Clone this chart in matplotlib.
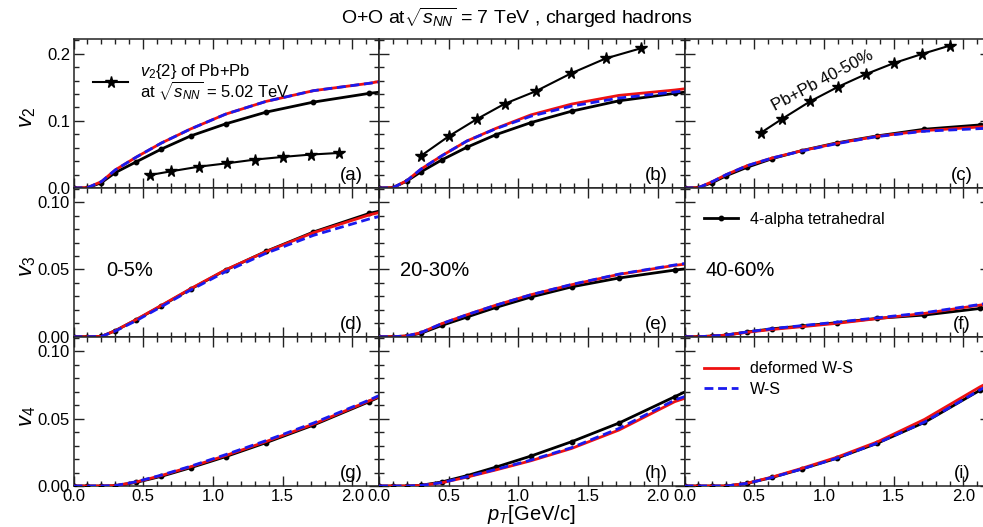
import matplotlib
matplotlib.use("Agg")
import matplotlib.pyplot as plt
from matplotlib.ticker import MultipleLocator, FormatStrFormatter

plt.rcParams['font.family'] = ['Liberation Sans', 'DejaVu Sans']
plt.rcParams['mathtext.fontset'] = 'custom'
plt.rcParams['mathtext.rm'] = 'Liberation Sans'
plt.rcParams['mathtext.it'] = 'Liberation Sans:italic'
plt.rcParams['mathtext.bf'] = 'Liberation Sans:bold'

# ---------------- data ----------------
pt = [0.0, 0.1, 0.2, 0.3, 0.45, 0.63, 0.84, 1.09, 1.38, 1.72, 2.12, 2.2]

# v2
v2_alpha_0_5 = [0, 0.0, 0.008, 0.023, 0.039, 0.058, 0.0776, 0.0955, 0.113, 0.128, 0.141, 0.143]
v2_def_0_5 = [0, 0.0005, 0.0095, 0.027, 0.046, 0.067, 0.088, 0.110, 0.129, 0.145, 0.156, 0.159]
v2_ws_0_5 = [0, 0.0005, 0.0095, 0.027, 0.046, 0.067, 0.088, 0.110, 0.129, 0.145, 0.156, 0.158]

v2_alpha_20_30 = [0, 0.0005, 0.0104, 0.024, 0.0418, 0.0607, 0.0796, 0.0975, 0.1144, 0.1299, 0.141, 0.143]
v2_def_20_30 = [0, 0.0005, 0.011, 0.028, 0.048, 0.070, 0.0890, 0.109, 0.125, 0.138, 0.146, 0.148]
v2_ws_20_30 = [0, 0.0005, 0.011, 0.028, 0.048, 0.070, 0.0885, 0.107, 0.122, 0.134, 0.143, 0.145]

v2_alpha_40_60 = [0, 0.0005, 0.008, 0.0184, 0.031, 0.0438, 0.0557, 0.0672, 0.0776, 0.0876, 0.094, 0.0955]
v2_def_40_60 = [0, 0.0005, 0.0095, 0.020, 0.0333, 0.0448, 0.0555, 0.0665, 0.077, 0.0855, 0.091, 0.092]
v2_ws_40_60 = [0, 0.0005, 0.0095, 0.020, 0.0333, 0.0448, 0.055, 0.066, 0.0766, 0.0846, 0.0885, 0.089]

# v3
v3_alpha_0_5 = [0, 0.0, 0.0002, 0.0045, 0.0126, 0.023, 0.0354, 0.0495, 0.0634, 0.0778, 0.0916, 0.0935]
v3_def_0_5 = [0, 0, 0.0002, 0.0045, 0.0128, 0.0233, 0.0357, 0.0497, 0.0632, 0.0773, 0.0905, 0.0925]
v3_ws_0_5 = [0, 0, 0.0002, 0.0042, 0.0119, 0.0223, 0.0347, 0.0483, 0.062, 0.0753, 0.0875, 0.0895]

v3_alpha_20_30 = [0, 0, 0.0005, 0.0025, 0.0084, 0.0146, 0.0218, 0.0295, 0.037, 0.0436, 0.0495, 0.0505]
v3_def_20_30 = [0, 0, 0.0006, 0.003, 0.0097, 0.0163, 0.0235, 0.0312, 0.0386, 0.0463, 0.053, 0.054]
v3_ws_20_30 = [0, 0, 0.0006, 0.003, 0.0097, 0.0163, 0.0235, 0.0312, 0.0388, 0.0465, 0.0533, 0.0545]

v3_alpha_40_60 = [0, 0, 0.0005, 0.0012, 0.0035, 0.0059, 0.0079, 0.0104, 0.0136, 0.0161, 0.021, 0.022]
v3_def_40_60 = [0, 0, 0.0005, 0.0012, 0.0033, 0.0054, 0.0074, 0.0099, 0.0134, 0.0173, 0.0235, 0.0248]
v3_ws_40_60 = [0, 0, 0.0005, 0.0013, 0.0036, 0.006, 0.0082, 0.0108, 0.014, 0.0178, 0.024, 0.0255]

# v4
v4_alpha_0_5 = [0, 0, 0, 0.0002, 0.0027, 0.0072, 0.0136, 0.0218, 0.0322, 0.0453, 0.0627, 0.0665]
v4_def_0_5 = [0, 0, 0, 0.0003, 0.003, 0.0078, 0.0143, 0.0226, 0.033, 0.046, 0.0633, 0.067]
v4_ws_0_5 = [0, 0, 0, 0.0003, 0.0032, 0.0081, 0.0147, 0.0233, 0.0337, 0.0468, 0.0639, 0.0677]

v4_alpha_20_30 = [0, 0, 0, 0.0005, 0.003, 0.0077, 0.0141, 0.0223, 0.0329, 0.0468, 0.0664, 0.0703]
v4_def_20_30 = [0, 0, 0, 0.0004, 0.0024, 0.0066, 0.012, 0.0188, 0.0279, 0.0416, 0.0627, 0.0655]
v4_ws_20_30 = [0, 0, 0, 0.0004, 0.0025, 0.0069, 0.0124, 0.0193, 0.0285, 0.0428, 0.0639, 0.0668]

v4_alpha_40_60 = [0, 0, 0, 0, 0.002, 0.0064, 0.0126, 0.0206, 0.0317, 0.0473, 0.0713, 0.0755]
v4_def_40_60 = [0, 0, 0, 0, 0.0021, 0.0067, 0.0131, 0.0213, 0.0327, 0.0495, 0.0738, 0.078]
v4_ws_40_60 = [0, 0, 0, 0, 0.002, 0.0064, 0.0126, 0.0206, 0.0318, 0.0475, 0.0716, 0.0757]

# Pb+Pb v2{2} at 5.02 TeV
pbpb_pt_0_5 = [0.55, 0.7, 0.9, 1.1, 1.3, 1.5, 1.7, 1.9]
pbpb_v2_0_5 = [0.0194, 0.0249, 0.0318, 0.0368, 0.0423, 0.0463, 0.0498, 0.0522]
pbpb_pt_20_30 = [0.3, 0.5, 0.7, 0.9, 1.125, 1.375, 1.625, 1.875]
pbpb_v2_20_30 = [0.0478, 0.0771, 0.1025, 0.1254, 0.1443, 0.1706, 0.1930, 0.2080]
pbpb_pt_40_50 = [0.55, 0.7, 0.9, 1.1, 1.3, 1.5, 1.7, 1.9]
pbpb_v2_40_50 = [0.0826, 0.103, 0.129, 0.1507, 0.1696, 0.186, 0.1995, 0.212]

centralities = ['0-5%', '20-30%', '40-60%']
panel_tags = ['(a)', '(b)', '(c)', '(d)', '(e)', '(f)', '(g)', '(h)', '(i)']
ylabels = [r'$v_2$', r'$v_3$', r'$v_4$']
xticklabels_fmt = '%.1f'

alpha_data = [[v2_alpha_0_5, v2_alpha_20_30, v2_alpha_40_60],
              [v3_alpha_0_5, v3_alpha_20_30, v3_alpha_40_60],
              [v4_alpha_0_5, v4_alpha_20_30, v4_alpha_40_60]]
def_data = [[v2_def_0_5, v2_def_20_30, v2_def_40_60],
            [v3_def_0_5, v3_def_20_30, v3_def_40_60],
            [v4_def_0_5, v4_def_20_30, v4_def_40_60]]
ws_data = [[v2_ws_0_5, v2_ws_20_30, v2_ws_40_60],
           [v3_ws_0_5, v3_ws_20_30, v3_ws_40_60],
           [v4_ws_0_5, v4_ws_20_30, v4_ws_40_60]]
pbpb = [(pbpb_pt_0_5, pbpb_v2_0_5), (pbpb_pt_20_30, pbpb_v2_20_30), (pbpb_pt_40_50, pbpb_v2_40_50)]

# ---------------- layout ----------------
W, H = 983, 527
fig = plt.figure(figsize=(W / 100, H / 100), dpi=100)
col_x = [73.5, 379.0, 684.5]
col_w = 305.5
row_top = [39.0, 188.0, 336.7]
row_bot = [188.0, 336.7, 486.0]
ylims = [0.222, 0.1105, 0.111]

axes = [[None] * 3 for _ in range(3)]
for r in range(3):
    for c in range(3):
        ax = fig.add_axes([col_x[c] / W, 1 - row_bot[r] / H, col_w / W,
                           (row_bot[r] - row_top[r]) / H])
        axes[r][c] = ax
        ax.set_xlim(0, 2.19)
        ax.set_ylim(0, ylims[r])
        ax.xaxis.set_major_locator(MultipleLocator(0.5))
        ax.xaxis.set_minor_locator(MultipleLocator(0.1))
        if r == 0:
            ax.yaxis.set_major_locator(MultipleLocator(0.1))
            ax.yaxis.set_minor_locator(MultipleLocator(0.02))
            ax.yaxis.set_major_formatter(FormatStrFormatter('%.1f'))
        else:
            ax.yaxis.set_major_locator(MultipleLocator(0.05))
            ax.yaxis.set_minor_locator(MultipleLocator(0.01))
            ax.yaxis.set_major_formatter(FormatStrFormatter('%.2f'))
        ax.xaxis.set_major_formatter(FormatStrFormatter(xticklabels_fmt))
        ax.tick_params(which='both', direction='in', top=True, right=True,
                       labelsize=12, pad=2.5, width=1.0, colors='#222222',
                       labelcolor='black')
        ax.tick_params(which='major', length=7)
        ax.tick_params(which='minor', length=3.6)
        ax.tick_params(labelbottom=(r == 2), labelleft=(c == 0))
        for s in ax.spines.values():
            s.set_linewidth(1.1)
            s.set_color('#222222')

        x = pt
        l_alpha, = ax.plot(x, alpha_data[r][c], color='black', lw=2.0,
                           marker='o', markersize=3.2, markevery=list(range(11)),
                           zorder=3, clip_on=True, label='4-alpha tetrahedral')
        l_def, = ax.plot(x, def_data[r][c], color='#ee1111', lw=2.0, zorder=4,
                         label='deformed W-S')
        l_ws, = ax.plot(x, ws_data[r][c], color='#1a1aee', lw=2.0, zorder=5,
                        dashes=(3.2, 1.7), label='W-S')
        if r == 0:
            ppt, pv = pbpb[c]
            l_pb, = ax.plot(ppt, pv, color='black', lw=1.5, marker='*',
                            markersize=8.5, zorder=6,
                            label='$v_2${2} of Pb+Pb\nat $\\sqrt{s_{NN}}$ = 5.02 TeV')
            if c == 0:
                leg = ax.legend(handles=[l_pb], loc='center left',
                                bbox_to_anchor=(0.065, 0.71), frameon=False,
                                fontsize=12, handlelength=2.1, handletextpad=0.7,
                                borderpad=0, borderaxespad=0)
                for t in leg.get_texts():
                    t.set_linespacing(0.92)
        if r == 1 and c == 2:
            ax.legend(handles=[l_alpha], loc='center left',
                      bbox_to_anchor=(0.065, 0.79), frameon=False,
                      fontsize=11.5, handlelength=2.1, handletextpad=0.75,
                      borderpad=0, borderaxespad=0)
        if r == 2 and c == 2:
            ax.legend(handles=[l_def, l_ws], loc='center left',
                      bbox_to_anchor=(0.065, 0.717), frameon=False,
                      fontsize=11.5, handlelength=2.1, handletextpad=0.75,
                      borderpad=0, borderaxespad=0, labelspacing=0.35)
        ax.text(0.908, 0.083, panel_tags[r * 3 + c], transform=ax.transAxes,
                ha='center', va='center', fontsize=13.5)
        if r == 1:
            ax.text(0.07 if c else 0.106, 0.448, centralities[c],
                    transform=ax.transAxes, ha='left', va='center', fontsize=14.5)

axes[0][2].text(0.452, 0.72, 'Pb+Pb 40-50%', transform=axes[0][2].transAxes,
                rotation=28, ha='center', va='center', fontsize=12,
                rotation_mode='anchor')

ylab_y = [118, 266, 416]
for r in range(3):
    fig.text(27 / W, 1 - ylab_y[r] / H, ylabels[r], rotation=90, fontsize=16,
             ha='center', va='center')

fig.text(517 / W, 1 - 18 / H, r'O+O at$\sqrt{s_{NN}}$ = 7 TeV , charged hadrons',
         ha='center', va='center', fontsize=14)
fig.text(531 / W, 1 - 515 / H, r'$p_T$[GeV/c]', ha='center', va='center',
         fontsize=14.5)

fig.savefig('out.png', dpi=100)
